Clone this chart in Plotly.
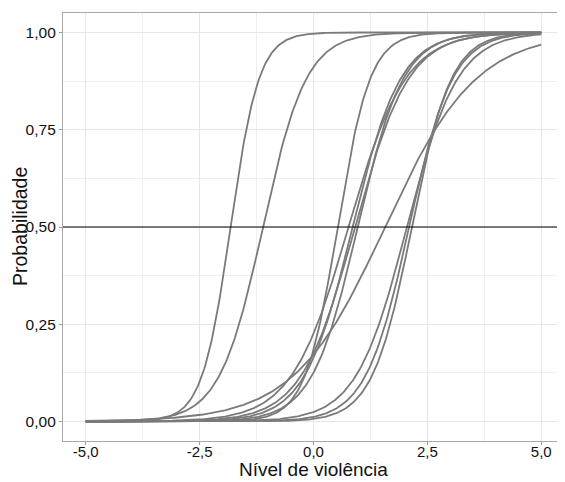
import numpy as np
import plotly.graph_objects as go

# Item parameters: location where P = 0.5 and slope
item_location = [-1.82, -1.11, 0.53, 0.77, 0.86, 0.91, 0.97, 1.57, 2.05, 2.10, 2.16]
item_slope    = [3.2,   2.1,   2.8,  1.6,  1.9,  1.7,  2.0,  1.0,  1.8,  2.1,  2.3]

x_tick_vals = [-5.0, -2.5, 0.0, 2.5, 5.0]
x_tick_text = ["-5,0", "-2,5", "0,0", "2,5", "5,0"]
y_tick_vals = [0.0, 0.25, 0.5, 0.75, 1.0]
y_tick_text = ["0,00", "0,25", "0,50", "0,75", "1,00"]
reference_prob = 0.5

theta = np.linspace(-5, 5, 401)

fig = go.Figure()
for b, a in zip(item_location, item_slope):
    p = 1.0 / (1.0 + np.exp(-a * (theta - b)))
    fig.add_trace(go.Scatter(x=theta, y=p, mode="lines",
                             line=dict(color="#7a7a7a", width=1.8),
                             showlegend=False, hoverinfo="skip"))

fig.add_shape(type="line", xref="paper", x0=0, x1=1, yref="y",
              y0=reference_prob, y1=reference_prob,
              line=dict(color="#000000", width=1.1), layer="above")

grid = "#e6e6e6"
font = "Liberation Sans, Arial, sans-serif"
txt = "#111111"
# page body has an 8px default margin, so the figure is 8px smaller on each axis
fig.update_layout(
    width=557, height=474,
    margin=dict(l=55, r=1, t=5, b=41, autoexpand=False),
    paper_bgcolor="white", plot_bgcolor="white",
    font=dict(family=font, color=txt),
    xaxis=dict(range=[-5.5, 5.5], tickmode="array", tickvals=x_tick_vals,
               ticktext=x_tick_text, tickfont=dict(size=15, color=txt),
               showgrid=True, gridcolor=grid, gridwidth=1, zeroline=False,
               ticks="outside", ticklen=3, tickcolor="#9a9a9a",
               ticklabelstandoff=-6,
               showline=True, linecolor="#a8a8a8", linewidth=1.3, mirror=True,
               automargin=False,
               minor=dict(tickvals=[-3.75, -1.25, 1.25, 3.75], showgrid=True,
                          gridcolor="#efefef", ticks="")),
    yaxis=dict(range=[-0.05, 1.05], tickmode="array", tickvals=y_tick_vals,
               ticktext=y_tick_text, tickfont=dict(size=15.5, color=txt),
               showgrid=True, gridcolor=grid, gridwidth=1, zeroline=False,
               ticks="outside", ticklen=3, tickcolor="#9a9a9a",
               showline=True, linecolor="#a8a8a8", linewidth=1.3, mirror=True,
               automargin=False,
               minor=dict(tickvals=[0.125, 0.375, 0.625, 0.875], showgrid=True,
                          gridcolor="#efefef", ticks="")),
    annotations=[
        dict(text="Nível de violência", xref="paper", yref="paper",
             x=0.5, y=0.0, yshift=-40, xanchor="center", yanchor="bottom",
             borderpad=0, showarrow=False, font=dict(size=19, color=txt)),
        dict(text="Probabilidade", xref="paper", yref="paper",
             x=0.0, y=0.5, xshift=-31, textangle=-90, xanchor="right",
             yanchor="middle", borderpad=0, showarrow=False,
             font=dict(size=19.5, color=txt)),
    ],
)

fig.write_html("out.html")
